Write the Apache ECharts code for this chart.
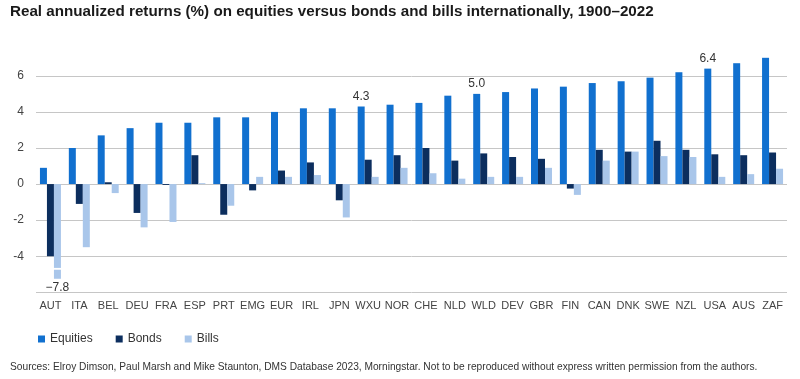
<!DOCTYPE html>
<html><head><meta charset="utf-8">
<script src="https://cdn.jsdelivr.net/npm/echarts@6/dist/echarts.min.js"></script>
<style>html,body{margin:0;padding:0;background:#fff}#c{width:800px;height:379px}</style>
</head><body><div id="c"></div>
<script>
const categories = ['AUT','ITA','BEL','DEU','FRA','ESP','PRT','EMG','EUR','IRL','JPN','WXU','NOR','CHE','NLD','WLD','DEV','GBR','FIN','CAN','DNK','SWE','NZL','USA','AUS','ZAF'];
const equities = [0.9,2.0,2.7,3.1,3.4,3.4,3.7,3.7,4.0,4.2,4.2,4.3,4.4,4.5,4.9,5.0,5.1,5.3,5.4,5.6,5.7,5.9,6.2,6.4,6.7,7.0];
const bonds    = [-4.0,-1.1,0.1,-1.6,-0.05,1.6,-1.7,-0.35,0.75,1.2,-0.9,1.35,1.6,2.0,1.3,1.7,1.5,1.4,-0.25,1.9,1.8,2.4,1.9,1.65,1.6,1.75];
const bills    = [-7.8,-3.5,-0.5,-2.4,-2.1,0.05,-1.2,0.4,0.4,0.5,-1.85,0.4,0.9,0.6,0.3,0.4,0.4,0.9,-0.6,1.3,1.8,1.55,1.5,0.4,0.55,0.85];
const labeledEquities = ['WXU','WLD','USA'];
const yTicks = [-6,-4,-2,0,2,4,6];

// broken-bar display for values beyond the axis floor
const AXIS_MIN = -6, AXIS_MAX = 7;
const BREAK_START = -4.65, BREAK_GAP = 0.1, BREAK_TAIL = 0.5;

const billsShown = bills.map(v => v < AXIS_MIN ? BREAK_START : v);
const billsGap = bills.map(v => v < AXIS_MIN ? -BREAK_GAP : null);
const billsTail = bills.map(v => v < AXIS_MIN ? -BREAK_TAIL : null);

const C_EQ = '#1170cf', C_BO = '#0c2e5e', C_BI = '#a9c6ea';
const FONT = 'Liberation Sans';

const chart = echarts.init(document.getElementById('c'));
chart.setOption({
  animation: false,
  textStyle: { fontFamily: FONT },
  title: [
    { text: 'Real annualized returns (%) on equities versus bonds and bills internationally, 1900\u20132022',
      left: 5, top: -1, textStyle: { fontFamily: FONT, fontSize: 15.2, fontWeight: 'bold', color: '#1a1a1a' } },
    { text: 'Sources: Elroy Dimson, Paul Marsh and Mike Staunton, DMS Database 2023, Morningstar. Not to be reproduced without express written permission from the authors.',
      left: 5, top: 357, textStyle: { fontFamily: FONT, fontSize: 10.2, fontWeight: 'normal', color: '#333' } }
  ],
  legend: {
    left: 33, top: 328, icon: 'rect', itemWidth: 7, itemHeight: 7, itemGap: 23,
    data: ['Equities','Bonds','Bills'],
    textStyle: { fontFamily: FONT, fontSize: 12, color: '#333' }
  },
  grid: { left: 36, right: 13, top: 57.8, bottom: 86.7 },
  xAxis: {
    type: 'category', data: categories,
    axisLine: { show: false }, axisTick: { show: false },
    axisLabel: { interval: 0, margin: 8, color: '#444', fontSize: 11, fontFamily: FONT }
  },
  yAxis: {
    type: 'value', min: AXIS_MIN, max: AXIS_MAX, interval: 2,
    axisLine: { show: false }, axisTick: { show: false },
    axisLabel: { color: '#444', fontSize: 12, fontFamily: FONT, margin: 12,
      formatter: v => yTicks.includes(v) && v !== AXIS_MIN ? String(v) : '' },
    splitLine: { lineStyle: { color: ['#c6c6c6','#c6c6c6','#c6c6c6','#c6c6c6','#c6c6c6','#c6c6c6','#c6c6c6','rgba(0,0,0,0)'], width: 1 } }
  },
  series: [
    { name: 'Equities', type: 'bar', data: equities, barWidth: 7, barGap: '0%',
      itemStyle: { color: C_EQ },
      label: { show: true, position: 'top', distance: 4, color: '#333', fontSize: 12, fontFamily: FONT,
        formatter: p => labeledEquities.includes(p.name) ? p.value.toFixed(1) : '' } },
    { name: 'Bonds', type: 'bar', data: bonds, barWidth: 7, barGap: '0%', itemStyle: { color: C_BO } },
    { name: 'Bills', type: 'bar', stack: 'bills', data: billsShown, barWidth: 7, barGap: '0%', itemStyle: { color: C_BI } },
    { name: 'BillsGap', type: 'bar', stack: 'bills', data: billsGap, barWidth: 7, barGap: '0%', itemStyle: { color: '#fff' } },
    { name: 'BillsTail', type: 'bar', stack: 'bills', data: billsTail, barWidth: 7, barGap: '0%', itemStyle: { color: C_BI },
      label: { show: true, position: 'bottom', distance: 3, color: '#333', fontSize: 12, fontFamily: FONT,
        formatter: p => bills[p.dataIndex] < AXIS_MIN ? '\u2212' + Math.abs(bills[p.dataIndex]).toFixed(1) : '' } }
  ]
});
</script></body></html>
